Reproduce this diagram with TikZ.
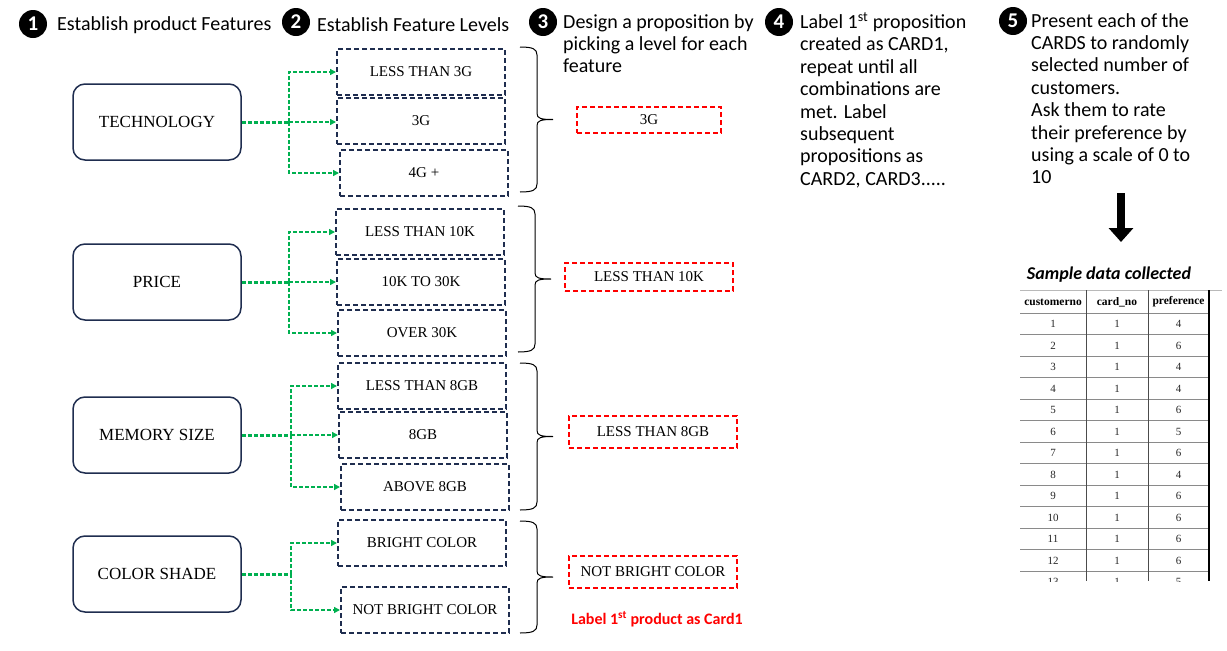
\documentclass[tikz,border=0pt]{standalone}
\usepackage{fontspec}
\setmainfont{Liberation Serif}
\newfontfamily\hdr{Carlito}
\usetikzlibrary{arrows.meta,calc}
\definecolor{navy}{HTML}{1F2D4F}
\definecolor{gr}{HTML}{00B050}
\definecolor{rd}{HTML}{FF0000}
\definecolor{tline}{HTML}{8A8A8A}
\newcommand{\mybrace}[3]{% x of ends, top y, bottom y
  \draw[line width=1pt] (#1,#2) .. controls ({#1+13},#2) and ({#1+17},{#2+2}) .. ({#1+17},{#2+8})
   -- ({#1+17},{(#2+#3)/2-6}) .. controls ({#1+17},{(#2+#3)/2-1}) and ({#1+21},{(#2+#3)/2}) .. ({#1+33},{(#2+#3)/2})
   .. controls ({#1+21},{(#2+#3)/2}) and ({#1+17},{(#2+#3)/2+1}) .. ({#1+17},{(#2+#3)/2+6})
   -- ({#1+17},{#3-8}) .. controls ({#1+17},{#3-2}) and ({#1+13},#3) .. (#1,#3);}
\begin{document}
\begin{tikzpicture}[x=1pt,y=-1pt,
  feat/.style={draw=navy, line width=1.5pt, rounded corners=12pt, minimum width=168pt, minimum height=76pt, font=\fontsize{17}{20}\selectfont, inner sep=0},
  lvl/.style={draw=navy, line width=2pt, dash pattern=on 5pt off 3pt, minimum width=168pt, minimum height=46pt, font=\fontsize{15}{18}\selectfont, inner sep=0},
  pick/.style={draw=rd, line width=2pt, dash pattern=on 5pt off 3pt, minimum width=168pt, minimum height=30pt, font=\fontsize{15}{18}\selectfont, inner sep=0},
  num/.style={circle, fill=black, text=white, minimum size=28pt, inner sep=0, font=\hdr\bfseries\fontsize{21}{21}\selectfont},
  hd/.style={font=\hdr\fontsize{20}{22.4}\selectfont, align=left, anchor=north west, inner sep=0},
  glink/.style={draw=gr, line width=2pt, dash pattern=on 4pt off 2pt, -{Triangle[length=6pt,width=6pt]}},
  gmain/.style={draw=gr, line width=3pt, dash pattern=on 4pt off 2pt},
  cell/.style={font=\fontsize{11}{13}\selectfont, text=black!85, inner sep=0},
  hcell/.style={font=\bfseries\fontsize{11.5}{13}\selectfont, inner sep=0},
]
\useasboundingbox (0,0) rectangle (1227,651);

% headers
\node[num] (n1) at (33,24) {1};
\node[hd, anchor=west] (t1) at (57,25) {Establish product Features};
\node[num] (n2) at (296,22) {2};
\node[hd, anchor=west] (t2) at (317,25) {Establish Feature Levels};
\node[num] (n3) at (543,22) {3};
\node[hd] (t3) at (563,14) {Design a proposition by\\picking a level for each\\feature};
\node[num] (n4) at (779,22) {4};
\node[hd] (t4) at (800,12) {Label 1\textsuperscript{st} proposition\\created as CARD1,\\repeat until all\\combinations are\\met. Label\\subsequent\\propositions as\\CARD2, CARD3.....};
\node[num] (n5) at (1013,21) {5};
\node[hd] (t5) at (1031,13) {Present each of the\\CARDS to randomly\\selected number of\\customers.\\Ask them to rate\\their preference by\\using a scale of 0 to\\10};

% features
\node[feat] (tech) at (157,122) {TECHNOLOGY};
\node[feat] (price) at (157,282) {PRICE};
\node[feat] (mem) at (157,435) {MEMORY SIZE};
\node[feat] (col) at (157,574) {COLOR SHADE};

% levels
\node[lvl] (l11) at (421,72) {LESS THAN 3G};
\node[lvl] (l12) at (421,121) {3G};
\node[lvl] (l13) at (424,173) {4G +};
\node[lvl] (l21) at (420,232) {LESS THAN 10K};
\node[lvl] (l22) at (421,282) {10K TO 30K};
\node[lvl] (l23) at (422,333) {OVER 30K};
\node[lvl] (l31) at (422,386) {LESS THAN 8GB};
\node[lvl] (l32) at (423,435) {8GB};
\node[lvl] (l33) at (425,487) {ABOVE 8GB};
\node[lvl] (l41) at (422,543) {BRIGHT COLOR};
\node[lvl] (l42) at (425,610) {NOT BRIGHT COLOR};

% green connectors
\coordinate (k1) at (289,122);
\coordinate (k2) at (289,282);
\coordinate (k3) at (291,435);
\coordinate (k4) at (291,574);
\draw[gmain] (tech.east) -- (k1);
\draw[glink] (k1) |- (l11.west);
\draw[glink] (k1) -- (k1 -| l12.west);
\draw[glink] (k1) |- (l13.west);
\draw[gmain] (price.east) -- (k2);
\draw[glink] (k2) |- (l21.west);
\draw[glink] (k2) -- (k2 -| l22.west);
\draw[glink] (k2) |- (l23.west);
\draw[gmain] (mem.east) -- (k3);
\draw[glink] (k3) |- (l31.west);
\draw[glink] (k3) -- (k3 -| l32.west);
\draw[glink] (k3) |- (l33.west);
\draw[gmain] (col.east) -- (k4);
\draw[glink] (k4) |- (l41.west);
\draw[glink] (k4) |- (l42.west);

% braces
\mybrace{520}{47}{192}
\mybrace{518}{206}{352}
\mybrace{520}{363}{510}
\mybrace{520}{521}{633}

% picks
\node[pick, minimum width=144pt, minimum height=26pt] (p1) at (649,120) {3G};
\node[pick, minimum height=28pt] (p2) at (649,277) {LESS THAN 10K};
\node[pick, minimum height=32pt] (p3) at (653,432) {LESS THAN 8GB};
\node[pick, minimum height=32pt] (p4) at (653,572) {NOT BRIGHT COLOR};
\node[text=rd, font=\hdr\bfseries\fontsize{16}{18}\selectfont, inner sep=0] (lab) at (657,619) {Label 1\textsuperscript{st} product as Card1};

% big arrow
\coordinate (a1) at (1121,193);
\coordinate (a2) at (1121,242);
\draw[line width=8pt, -{Triangle[length=14pt,width=24pt]}] (a1) -- (a2);

% table
\node[font=\hdr\bfseries\itshape\fontsize{18}{20}\selectfont, inner sep=0] (cap) at (1109,275) {Sample data collected};
\begin{scope}
\clip (1015,286) rectangle (1227,581);
\draw[tline!60, line width=1pt] (1020,290) -- (1222,290);
\foreach \k in {0,...,13} {
  \draw[tline, line width=1pt] (1020,{313+21.5*\k}) -- (1209,{313+21.5*\k});
}
\draw[black!70, line width=1pt] (1086,290) -- (1086,581);
\draw[black!70, line width=1pt] (1148,290) -- (1148,581);
\draw[black, line width=2pt] (1209,290) -- (1209,581);
\node[hcell] (h1) at (1053,302) {customerno};
\node[hcell] (h2) at (1117,302) {card\_no};
\node[hcell] (h3) at (1178.5,302) {preference};
\foreach \i/\p in {1/4,2/6,3/4,4/4,5/6,6/5,7/6,8/4,9/6,10/6,11/6,12/6,13/5} {
  \node[cell] (c\i) at (1053,{324+21.5*(\i-1)}) {\i};
  \node[cell] (d\i) at (1117,{324+21.5*(\i-1)}) {1};
  \node[cell] (e\i) at (1178.5,{324+21.5*(\i-1)}) {\p};
}
\end{scope}
\end{tikzpicture}
\end{document}
